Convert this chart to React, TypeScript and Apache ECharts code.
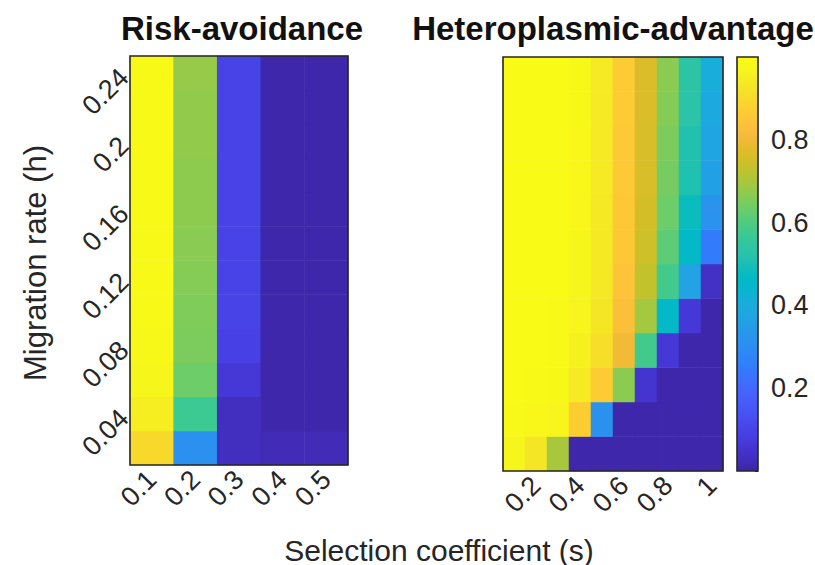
import React, { useEffect, useRef } from "react";
import * as echarts from "echarts";

// ---------- data ----------
// Migration rate (h), bottom -> top
const hValues = ["0.02", "0.04", "0.06", "0.08", "0.1", "0.12", "0.14", "0.16", "0.18", "0.2", "0.22", "0.24"];
// Selection coefficient (s)
const sRisk = ["0.1", "0.2", "0.3", "0.4", "0.5"];
const sHetero = ["0.1", "0.2", "0.3", "0.4", "0.5", "0.6", "0.7", "0.8", "0.9", "1"];

// Risk-avoidance: one array per s column, values from h=0.02 up to h=0.24
const riskS01 = [0.9, 0.95, 0.975, 0.985, 0.99, 0.99, 0.99, 0.99, 0.99, 0.99, 0.99, 0.99];
const riskS02 = [0.31, 0.57, 0.635, 0.65, 0.655, 0.66, 0.665, 0.67, 0.67, 0.675, 0.675, 0.68];
const riskS03 = [0.03, 0.03, 0.065, 0.095, 0.1, 0.1, 0.1, 0.1, 0.1, 0.1, 0.1, 0.1];
const riskS04 = [0.02, 0.005, 0.005, 0.005, 0.005, 0.005, 0.005, 0.005, 0.005, 0.005, 0.005, 0.005];
const riskS05 = [0.02, 0.005, 0.005, 0.005, 0.005, 0.005, 0.005, 0.005, 0.005, 0.005, 0.005, 0.005];
const riskAvoidance = [riskS01, riskS02, riskS03, riskS04, riskS05];

// Heteroplasmic-advantage: one array per s column, values from h=0.02 up to h=0.24
const hetS01 = [0.975, 0.99, 0.995, 0.995, 0.995, 0.995, 0.995, 0.995, 0.995, 0.995, 0.995, 0.995];
const hetS02 = [0.93, 0.98, 0.99, 0.995, 0.995, 0.995, 0.995, 0.995, 0.995, 0.995, 0.995, 0.995];
const hetS03 = [0.7, 0.97, 0.985, 0.99, 0.99, 0.995, 0.995, 0.995, 0.995, 0.995, 0.995, 0.995];
const hetS04 = [0.005, 0.87, 0.94, 0.955, 0.97, 0.975, 0.975, 0.98, 0.98, 0.98, 0.985, 0.985];
const hetS05 = [0.005, 0.317, 0.865, 0.91, 0.93, 0.935, 0.935, 0.935, 0.94, 0.94, 0.94, 0.94];
const hetS06 = [0.005, 0.005, 0.667, 0.8, 0.83, 0.845, 0.855, 0.855, 0.86, 0.86, 0.865, 0.865];
const hetS07 = [0.005, 0.005, 0.055, 0.58, 0.695, 0.73, 0.745, 0.755, 0.76, 0.76, 0.765, 0.765];
const hetS08 = [0.005, 0.005, 0.005, 0.065, 0.46, 0.58, 0.615, 0.635, 0.645, 0.65, 0.66, 0.667];
const hetS09 = [0.005, 0.005, 0.005, 0.005, 0.065, 0.37, 0.46, 0.48, 0.51, 0.515, 0.53, 0.535];
const hetS10 = [0.005, 0.005, 0.005, 0.005, 0.005, 0.04, 0.25, 0.32, 0.36, 0.375, 0.39, 0.405];
const heteroplasmic = [hetS01, hetS02, hetS03, hetS04, hetS05, hetS06, hetS07, hetS08, hetS09, hetS10];

const colorMin = 0;
const colorMax = 1;
const colorbarTickStep = 0.2;

// ---------- style ----------
const PARULA = [
  [0.2422, 0.1504, 0.6603], [0.2578, 0.1818, 0.7511], [0.2706, 0.2147, 0.8364], [0.2783, 0.2559, 0.8991],
  [0.2813, 0.3006, 0.9414], [0.2795, 0.3447, 0.9717], [0.2699, 0.3892, 0.9906], [0.244, 0.4358, 0.9988],
  [0.1963, 0.4847, 0.9892], [0.1786, 0.5289, 0.9682], [0.1687, 0.5703, 0.9359], [0.146, 0.6091, 0.9079],
  [0.1248, 0.6459, 0.8883], [0.0952, 0.6798, 0.8598], [0.0297, 0.7082, 0.8163], [0.0067, 0.7312, 0.766],
  [0.0964, 0.75, 0.712], [0.1717, 0.767, 0.6554], [0.2161, 0.7843, 0.5923], [0.2906, 0.7973, 0.5188],
  [0.3909, 0.8029, 0.4354], [0.5044, 0.7993, 0.348], [0.6174, 0.7876, 0.2612], [0.7242, 0.7698, 0.191],
  [0.8203, 0.7498, 0.1535], [0.9035, 0.733, 0.1774], [0.9728, 0.7298, 0.2394], [0.997, 0.7659, 0.2199],
  [0.9892, 0.8136, 0.1885], [0.9676, 0.8639, 0.1643], [0.9597, 0.9135, 0.1423], [0.9691, 0.9606, 0.1064],
  [0.9769, 0.9839, 0.0805],
];
const toRgb = (c: number[]) => `rgb(${Math.round(c[0] * 255)},${Math.round(c[1] * 255)},${Math.round(c[2] * 255)})`;
const parulaColors = PARULA.map(toRgb);

const FONT = "'Liberation Sans', Arial, Helvetica, sans-serif";
const TEXT = "#262626";
const BORDER = "#262626";

const toCells = (cols: number[][]) =>
  cols.flatMap((col, xi) => col.map((v, yi) => [xi, yi, v]));

export default function App() {
  const ref = useRef<HTMLDivElement>(null);

  useEffect(() => {
    if (!ref.current) return;
    const chart = echarts.init(ref.current, null, { renderer: "svg" });

    const tickLabel = { fontFamily: FONT, fontSize: 27, color: TEXT };
    const gridBase = { show: true, borderColor: BORDER, borderWidth: 1.6, backgroundColor: "transparent", z: 10 };

    const option: any = {
      animation: false,
      textStyle: { fontFamily: FONT },
      title: [
        {
          text: "Risk-avoidance",
          left: 237,
          top: 7,
          textAlign: "center",
          textStyle: { fontFamily: FONT, fontSize: 33, fontWeight: "bold", color: "#111" },
        },
        {
          text: "Heteroplasmic-advantage",
          left: 608,
          top: 7,
          textAlign: "center",
          textStyle: { fontFamily: FONT, fontSize: 33, fontWeight: "bold", color: "#111" },
        },
      ],
      grid: [
        { ...gridBase, left: 130, top: 56, width: 218, height: 409 },
        { ...gridBase, left: 503, top: 57, width: 220, height: 414 },
        { ...gridBase, left: 737, top: 57, width: 21, height: 414 },
      ],
      xAxis: [
        {
          type: "category",
          gridIndex: 0,
          data: sRisk,
          axisLine: { show: false },
          axisTick: { show: false },
          splitLine: { show: false },
          axisLabel: { ...tickLabel, rotate: 45, margin: 10, interval: 0 },
        },
        {
          type: "category",
          gridIndex: 1,
          data: sHetero,
          axisLine: { show: false },
          axisTick: { show: false },
          splitLine: { show: false },
          axisLabel: { ...tickLabel, rotate: 45, margin: 10, interval: (i: number) => i % 2 === 1 },
        },
        {
          type: "category",
          gridIndex: 2,
          data: [""],
          show: false,
        },
      ],
      yAxis: [
        {
          type: "category",
          gridIndex: 0,
          data: hValues,
          axisLine: { show: false },
          axisTick: { show: false },
          splitLine: { show: false },
          axisLabel: { ...tickLabel, rotate: 45, margin: 6, interval: (i: number) => i % 2 === 1 },
        },
        {
          type: "category",
          gridIndex: 1,
          data: hValues,
          axisLine: { show: false },
          axisTick: { show: false },
          axisLabel: { show: false },
          splitLine: { show: false },
        },
        {
          type: "value",
          gridIndex: 2,
          position: "right",
          min: colorMin,
          max: colorMax,
          interval: colorbarTickStep,
          axisLine: { show: false },
          splitLine: { show: false },
          axisTick: { show: true, inside: true, length: 3, lineStyle: { color: BORDER } },
          axisLabel: {
            fontFamily: FONT,
            fontSize: 27,
            color: TEXT,
            margin: 13,
            formatter: (v: number) => (v <= colorMin + 1e-9 || v >= colorMax - 1e-9 ? "" : String(Math.round(v * 10) / 10)),
          },
        },
      ],
      visualMap: {
        show: false,
        type: "continuous",
        min: colorMin,
        max: colorMax,
        seriesIndex: [0, 1],
        dimension: 2,
        inRange: { color: parulaColors },
      },
      series: [
        {
          type: "heatmap",
          xAxisIndex: 0,
          yAxisIndex: 0,
          data: toCells(riskAvoidance),
          emphasis: { disabled: true },
          itemStyle: { borderWidth: 0 },
        },
        {
          type: "heatmap",
          xAxisIndex: 1,
          yAxisIndex: 1,
          data: toCells(heteroplasmic),
          emphasis: { disabled: true },
          itemStyle: { borderWidth: 0 },
        },
        {
          type: "bar",
          xAxisIndex: 2,
          yAxisIndex: 2,
          data: [colorMax],
          barWidth: "100%",
          silent: true,
          itemStyle: {
            color: new echarts.graphic.LinearGradient(
              0, 1, 0, 0,
              parulaColors.map((c, i) => ({ offset: i / (parulaColors.length - 1), color: c }))
            ),
          },
        },
      ],
      graphic: [
        {
          type: "text",
          x: 439,
          y: 550,
          style: {
            text: "Selection coefficient (s)",
            fontFamily: FONT,
            fontSize: 30,
            fill: TEXT,
            align: "center",
            verticalAlign: "middle",
          },
        },
        {
          type: "text",
          x: 35,
          y: 263,
          rotation: Math.PI / 2,
          style: {
            text: "Migration rate (h)",
            fontFamily: FONT,
            fontSize: 31,
            fill: TEXT,
            align: "center",
            verticalAlign: "middle",
          },
        },
      ],
    };

    chart.setOption(option);
    return () => chart.dispose();
  }, []);

  return (
    <div
      ref={ref}
      style={{ position: "absolute", left: 0, top: 0, width: 815, height: 565, background: "#fff" }}
    />
  );
}
